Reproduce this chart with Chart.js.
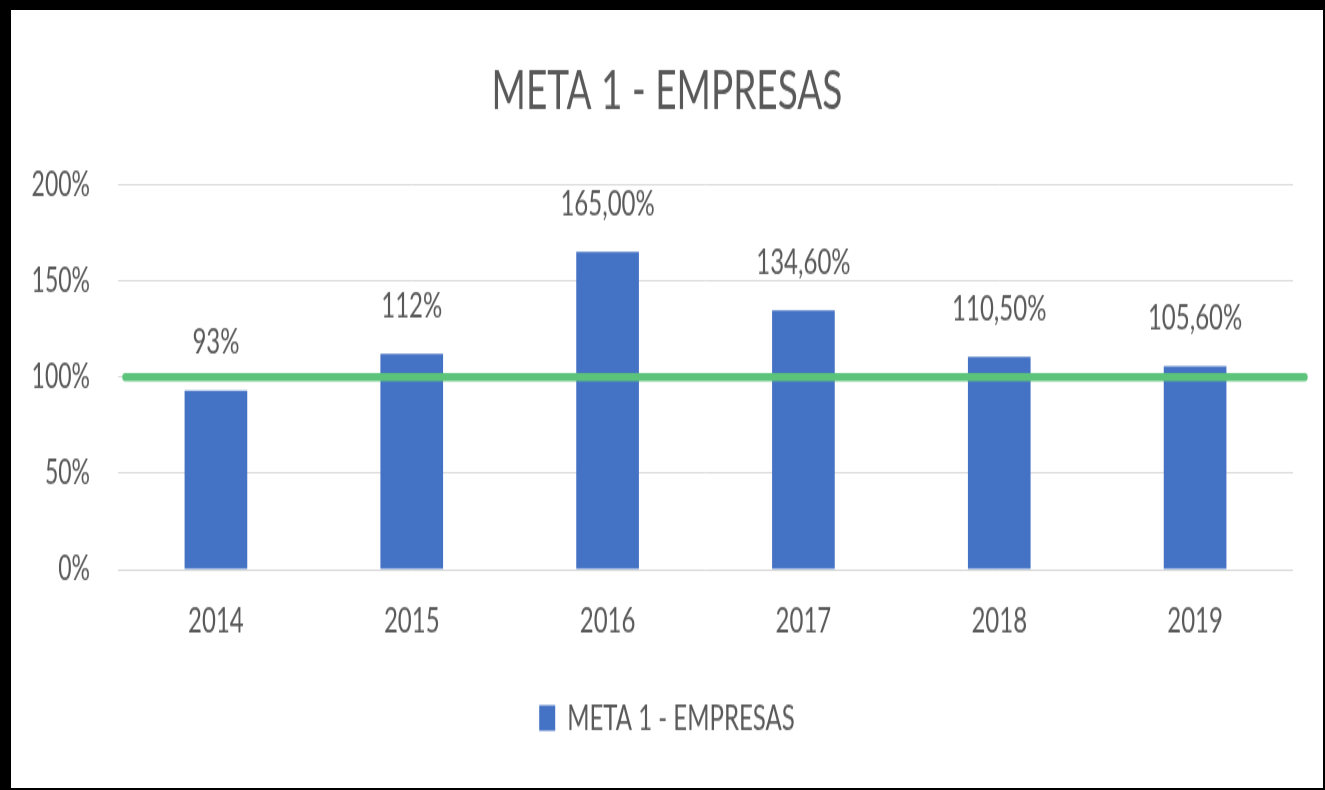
<!DOCTYPE html>
<html>
<head>
<meta charset="utf-8">
<script src="https://cdn.jsdelivr.net/npm/chart.js@4.4.0/dist/chart.umd.min.js"></script>
<style>
  html, body { margin: 0; padding: 0; background: #000; }
  #card {
    position: absolute; left: 11px; top: 10px;
    width: 1312px; height: 778px;
    background: #fff; overflow: hidden;
  }
  /* the reference is stretched vertically about 1.5x */
  #chart {
    position: absolute; left: 0; top: 0;
    transform: scaleY(1.5); transform-origin: 0 0;
  }
</style>
</head>
<body>
<div id="card"><canvas id="chart" width="1312" height="519"></canvas></div>
<script>
const years = ['2014', '2015', '2016', '2017', '2018', '2019'];
const metaValues = [93, 112, 165, 134.6, 110.5, 105.6];
const metaLabels = ['93%', '112%', '165,00%', '134,60%', '110,50%', '105,60%'];
const yTicks = [0, 50, 100, 150, 200];
const targetValue = 100;

const textColor = '#595959';
const fontFamily = 'Lato, "Open Sans", sans-serif';

// value labels above each bar
const barLabels = {
  id: 'barLabels',
  afterDatasetsDraw(chart) {
    const ctx = chart.ctx;
    const meta = chart.getDatasetMeta(0);
    ctx.save();
    ctx.font = '24px ' + fontFamily;
    ctx.fillStyle = textColor;
    ctx.textAlign = 'center';
    ctx.textBaseline = 'bottom';
    meta.data.forEach((bar, i) => {
      ctx.fillText(metaLabels[i], bar.x, bar.y - 20);
    });
    ctx.restore();
  }
};

// green target line at 100%
const targetLine = {
  id: 'targetLine',
  afterDatasetsDraw(chart) {
    const ctx = chart.ctx;
    const area = chart.chartArea;
    const y = chart.scales.y.getPixelForValue(targetValue);
    ctx.save();
    ctx.strokeStyle = '#5cc47a';
    ctx.lineWidth = 5.4;
    ctx.lineCap = 'round';
    ctx.beginPath();
    ctx.moveTo(area.left + 7, y);
    ctx.lineTo(area.right + 12, y);
    ctx.stroke();
    ctx.restore();
  }
};

new Chart(document.getElementById('chart'), {
  type: 'bar',
  data: {
    labels: years,
    datasets: [{
      label: 'META 1 - EMPRESAS',
      data: metaValues,
      backgroundColor: '#4472c4',
      barPercentage: 0.32,
      categoryPercentage: 1
    }]
  },
  options: {
    responsive: false,
    animation: false,
    devicePixelRatio: 1,
    layout: { padding: { left: 0, right: 0, top: 0, bottom: 25 } },
    scales: {
      x: {
        grid: { display: false, drawTicks: false },
        border: { display: false },
        ticks: { color: textColor, font: { size: 24, family: fontFamily }, padding: 20 },
        afterFit(scale) { scale.height = 77; }
      },
      y: {
        min: 0,
        max: 200,
        afterBuildTicks(scale) { scale.ticks = yTicks.map(v => ({ value: v })); },
        grid: { color: '#d9d9d9', lineWidth: 1, drawTicks: false },
        border: { display: false },
        ticks: {
          color: textColor,
          font: { size: 23, family: fontFamily },
          padding: 28,
          callback: v => v + '%'
        },
        afterFit(scale) { scale.width = 107; }
      },
      // empty right margin so the title and legend stay centred on the card
      yRight: {
        position: 'right',
        grid: { display: false, drawTicks: false },
        border: { display: false },
        ticks: { display: false },
        afterFit(scale) { scale.width = 30; }
      }
    },
    plugins: {
      title: {
        display: true,
        text: 'META 1 - EMPRESAS',
        color: textColor,
        font: { size: 37, weight: 'normal', family: fontFamily },
        padding: { top: 32, bottom: 40 }
      },
      legend: {
        position: 'bottom',
        labels: {
          color: textColor,
          boxWidth: 16,
          boxHeight: 17,
          font: { size: 24, family: fontFamily },
          padding: 10
        }
      },
      tooltip: { enabled: false }
    }
  },
  plugins: [barLabels, targetLine]
});
</script>
</body>
</html>
